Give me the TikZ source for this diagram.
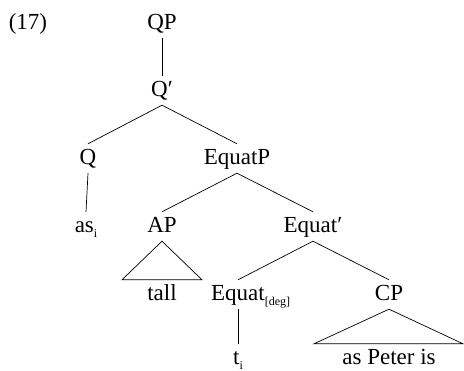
\documentclass[tikz,border=0pt]{standalone}
\usepackage{fontspec}
\setmainfont{Liberation Serif}
\usetikzlibrary{positioning}
\newcommand{\subtx}[1]{\raisebox{-0.2em}{\fontsize{12}{12}\selectfont #1}}

\begin{document}
\begin{tikzpicture}[x=1pt,y=-1pt,
  lab/.style={font=\fontsize{23}{27}\selectfont, text height=14pt, text depth=1pt, inner xsep=1pt, inner ysep=7pt, anchor=base},
  edge/.style={line width=0.7pt}]
  \useasboundingbox (0,0) rectangle (464,371); % 図全体の大きさ
  \node[lab] (num) at (28,30) {(17)}; % 例文番号
  \node[lab] (qp) at (162,30) {QP}; % 根
  \node[lab] (qbar) at (162,97) {Q′}; % 中間投射
  \node[lab] (q) at (88,165) {Q}; % 主要部
  \node[lab] (equatp) at (237,165) {EquatP}; % 補部
  \node[lab] (as) at (86,233) {as\subtx{i}}; % 移動した as
  \node[lab] (ap) at (162,233) {AP}; % 指定部
  \node[lab] (equatbar) at (313,233) {Equat′}; % 中間投射
  \node[lab] (tall) at (162,301) {tall}; % 三角形の下の語
  \node[lab] (equat) at (238,301) {Equat\rlap{\subtx{[deg]}}}; % 主要部（素性つき）
  \node[lab] (cp) at (389,301) {CP}; % 比較節
  \node[lab] (t) at (238,365) {t\subtx{i}}; % 痕跡
  \node[lab] (peter) at (389,365) {as Peter is}; % 三角形の下の語句
  \draw[edge] (qp.south) -- (qbar.north); % 単一の枝
  \draw[edge] (q.north) -- (qbar.south) -- (equatp.north); % 二股の枝
  \draw[edge] (q.south) -- (as.north); % 単一の枝
  \draw[edge] (ap.north) -- (equatp.south) -- (equatbar.north); % 二股の枝
  \draw[edge] (equat.north) -- (equatbar.south) -- (cp.north); % 二股の枝
  \draw[edge] (equat.south) -- (t.north); % 単一の枝
  \draw[edge] (ap.south) -- ([xshift=-40pt]tall.north) -- ([xshift=40pt]tall.north) -- cycle; % 省略の三角形
  \draw[edge] (cp.south) -- ([xshift=-75pt]peter.north) -- ([xshift=74pt]peter.north) -- cycle; % 省略の三角形
\end{tikzpicture}
\end{document}
